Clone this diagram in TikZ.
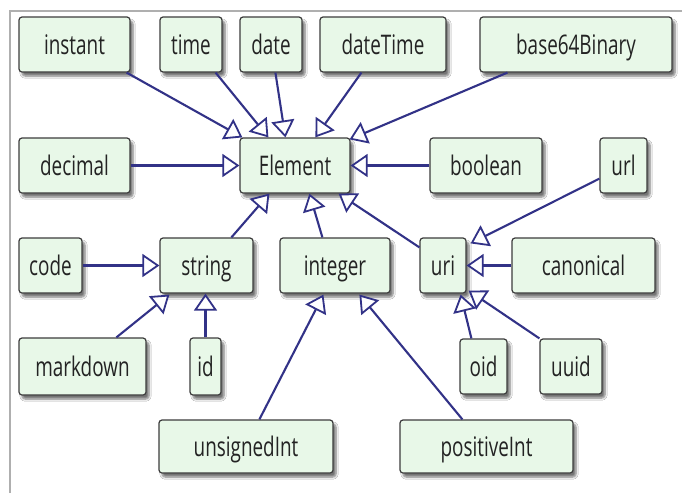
\documentclass[tikz,border=0pt]{standalone}
\usepackage{fontspec}
\setmainfont[FakeStretch=0.70]{Open Sans}
\usetikzlibrary{arrows.meta,calc,shadows.blur}
\definecolor{boxfill}{RGB}{232,248,232}
\definecolor{boxline}{RGB}{60,60,60}
\definecolor{txt}{RGB}{35,35,35}
\definecolor{arr}{RGB}{50,50,135}
\definecolor{frame}{RGB}{175,175,175}
\tikzset{
  typebox/.style={draw=boxline, line width=1.2pt, fill=boxfill, rounded corners=3pt,
    minimum height=55pt, inner sep=0pt, text=txt,
    font=\fontsize{27}{32}\selectfont, text height=20pt, text depth=0pt,
    blur shadow={shadow xshift=3pt, shadow yshift=-4pt, shadow blur steps=6, shadow opacity=55}},
  gen/.style={draw=arr, line width=2.1pt,
    -{Triangle[open, length=17pt, width=23pt, fill=white, line width=1.8pt]}}
}
\begin{document}
\begin{tikzpicture}[x=1pt,y=-1pt]
\useasboundingbox (0,0) rectangle (682,493);
\fill[white] (0,0) rectangle (682,493);
\draw[frame, line width=2pt] (10,493) -- (10,11) -- (682,11);
% row 1
\node[typebox, minimum width=111pt] (instant) at (74.5,44.5) {instant};
\node[typebox, minimum width=62pt] (time) at (191,44.5) {time};
\node[typebox, minimum width=62pt] (date) at (271,44.5) {date};
\node[typebox, minimum width=126pt] (dateTime) at (383,44.5) {dateTime};
\node[typebox, minimum width=192pt] (b64) at (576,44.5) {base64Binary};
% row 2
\node[typebox, minimum width=111pt] (decimal) at (74.5,165.5) {decimal};
\node[typebox, minimum width=110pt] (Element) at (295,165.5) {Element};
\node[typebox, minimum width=112pt] (boolean) at (486,165.5) {boolean};
\node[typebox, minimum width=47pt] (url) at (623.5,165.5) {url};
% row 3
\node[typebox, minimum width=63pt] (code) at (50.5,265.5) {code};
\node[typebox, minimum width=93pt] (string) at (206.5,265.5) {string};
\node[typebox, minimum width=110pt] (integer) at (335,265.5) {integer};
\node[typebox, minimum width=46pt] (uri) at (443,265.5) {uri};
\node[typebox, minimum width=143pt] (canonical) at (583.5,265.5) {canonical};
% row 4
\node[typebox, minimum width=127pt, minimum height=57pt] (markdown) at (82.5,366.5) {markdown};
\node[typebox, minimum width=31pt, minimum height=57pt] (id) at (205.5,366.5) {id};
\node[typebox, minimum width=47pt] (oid) at (483.5,366.5) {oid};
\node[typebox, minimum width=62pt] (uuid) at (571,366.5) {uuid};
% row 5
\node[typebox, minimum width=174pt, minimum height=53pt] (unsignedInt) at (246,446.5) {unsignedInt};
\node[typebox, minimum width=173pt, minimum height=53pt] (positiveInt) at (486.5,446.5) {positiveInt};
% edges to Element
\draw[gen] ($(instant.south east)+(-4,0)$) -- ($(Element.north west)+(3,0)$);
\draw[gen] ($(time.south east)+(-7,0)$) -- ($(Element.north west)+(29,0)$);
\draw[gen] ($(date.south west)+(36,0)$) -- ($(Element.north west)+(46,0)$);
\draw[gen] ($(dateTime.south west)+(42,0)$) -- ($(Element.north west)+(76,0)$);
\draw[gen] ($(b64.south west)+(28,0)$) -- ($(Element.north east)+(-1,2)$);
\draw[gen] (decimal.east) -- (Element.west);
\draw[gen] (boolean.west) -- (Element.east);
\draw[gen] ($(string.north west)+(72,0)$) -- ($(Element.south west)+(30,0)$);
\draw[gen] ($(integer.north west)+(43,0)$) -- ($(Element.south west)+(70,0)$);
\draw[gen] ($(uri.north west)+(0,10)$) -- ($(Element.south east)+(-12,0)$);
% edges to uri
\draw[gen] ($(url.south west)+(0,-15)$) -- ($(uri.north east)+(4,6)$);
\draw[gen] (canonical.west) -- (uri.east);
\draw[gen] ($(oid.north west)+(12,0)$) -- ($(uri.south east)+(-6,1)$);
\draw[gen] (uuid.north west) -- ($(uri.south east)+(2,-3)$);
% edges to string
\draw[gen] (code.east) -- (string.west);
\draw[gen] ($(markdown.north west)+(98,0)$) -- ($(string.south west)+(10,1)$);
\draw[gen] (id.north) -- (id.north |- string.south);
% edges to integer
\draw[gen] ($(unsignedInt.north west)+(101,0)$) -- ($(integer.south west)+(44,1)$);
\draw[gen] ($(positiveInt.north west)+(63,0)$) -- ($(integer.south west)+(80,1)$);
\end{tikzpicture}
\end{document}
